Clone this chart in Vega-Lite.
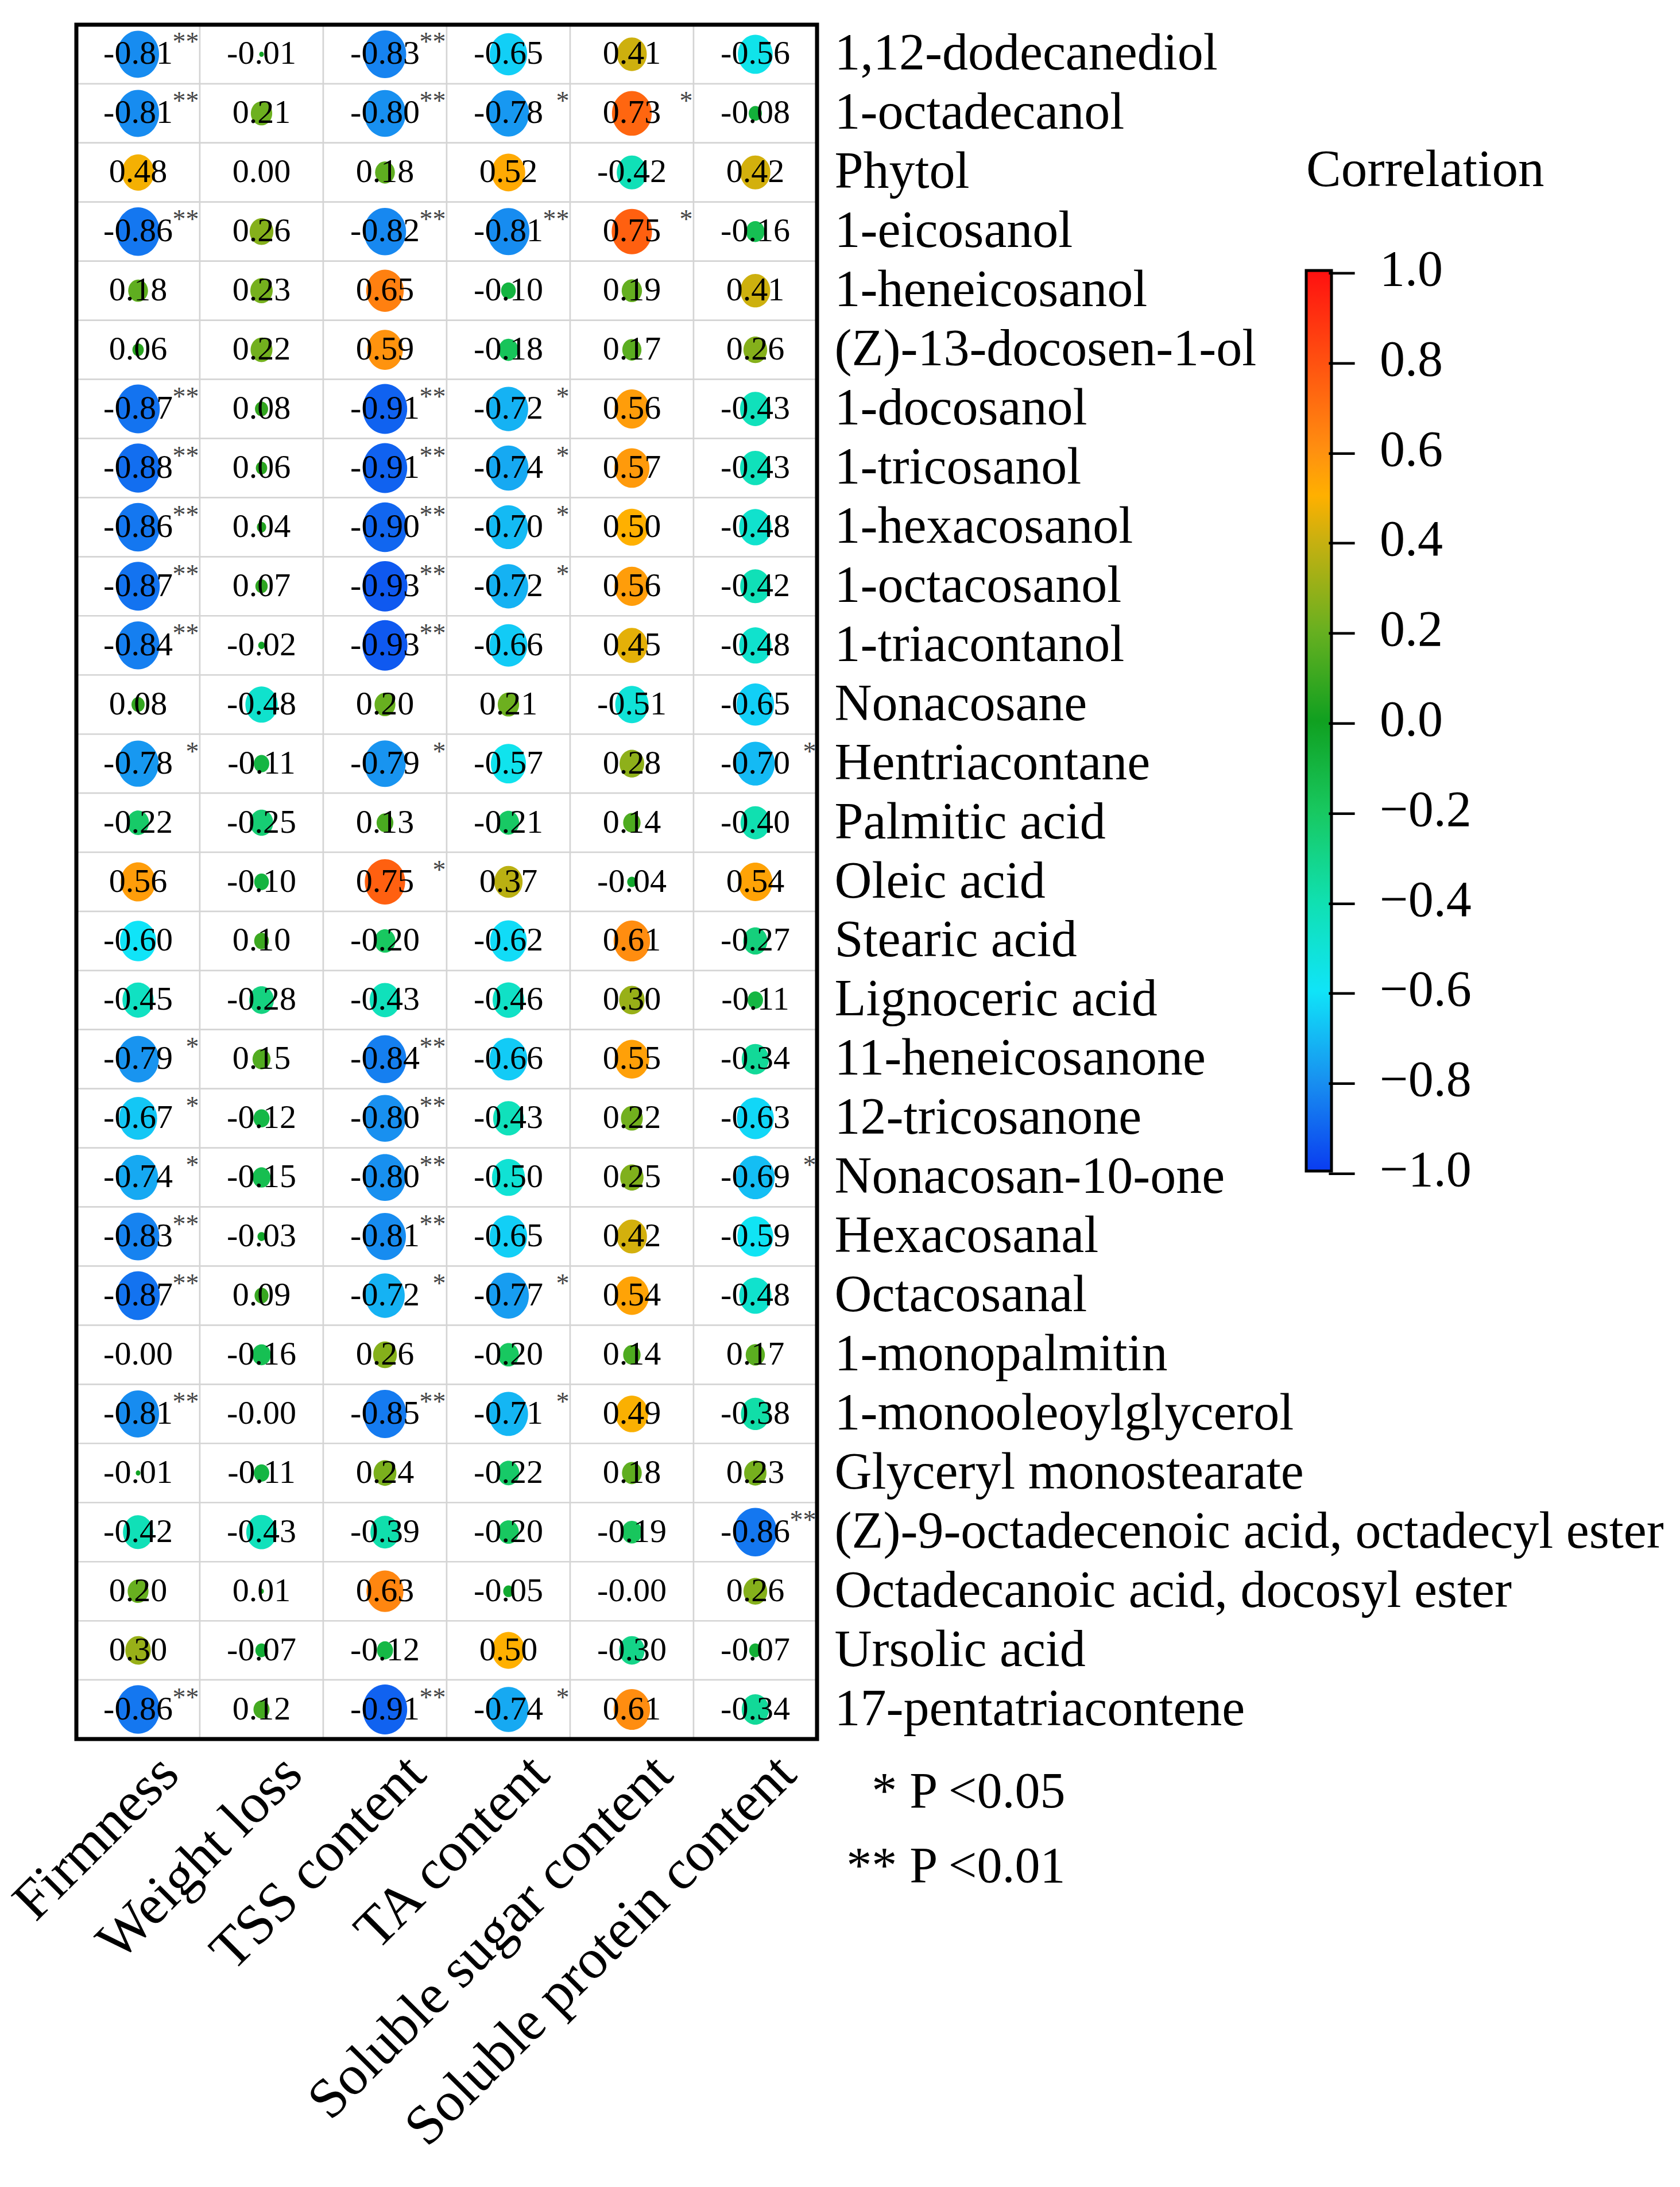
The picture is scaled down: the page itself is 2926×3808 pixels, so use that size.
{
"$schema": "https://vega.github.io/schema/vega-lite/v6.json",
"width": 1290, "height": 2985,
"autosize": {"type": "none"},
"padding": {"left": 133, "top": 43, "right": 1503, "bottom": 780},
"background": "white",
"config": {"view": {"stroke": null}, "font": "Liberation Serif"},
"datasets": {
"frame": [{"k": 1}],
"corr": [
{"c":"1,12-dodecanediol","t":"Firmness","r":-0.81,"l":"-0.81","s":"**"},
{"c":"1,12-dodecanediol","t":"Weight loss","r":-0.01,"l":"-0.01","s":""},
{"c":"1,12-dodecanediol","t":"TSS content","r":-0.83,"l":"-0.83","s":"**"},
{"c":"1,12-dodecanediol","t":"TA content","r":-0.65,"l":"-0.65","s":""},
{"c":"1,12-dodecanediol","t":"Soluble sugar content","r":0.41,"l":"0.41","s":""},
{"c":"1,12-dodecanediol","t":"Soluble protein content","r":-0.56,"l":"-0.56","s":""},
{"c":"1-octadecanol","t":"Firmness","r":-0.81,"l":"-0.81","s":"**"},
{"c":"1-octadecanol","t":"Weight loss","r":0.21,"l":"0.21","s":""},
{"c":"1-octadecanol","t":"TSS content","r":-0.80,"l":"-0.80","s":"**"},
{"c":"1-octadecanol","t":"TA content","r":-0.78,"l":"-0.78","s":"*"},
{"c":"1-octadecanol","t":"Soluble sugar content","r":0.73,"l":"0.73","s":"*"},
{"c":"1-octadecanol","t":"Soluble protein content","r":-0.08,"l":"-0.08","s":""},
{"c":"Phytol","t":"Firmness","r":0.48,"l":"0.48","s":""},
{"c":"Phytol","t":"Weight loss","r":0.00,"l":"0.00","s":""},
{"c":"Phytol","t":"TSS content","r":0.18,"l":"0.18","s":""},
{"c":"Phytol","t":"TA content","r":0.52,"l":"0.52","s":""},
{"c":"Phytol","t":"Soluble sugar content","r":-0.42,"l":"-0.42","s":""},
{"c":"Phytol","t":"Soluble protein content","r":0.42,"l":"0.42","s":""},
{"c":"1-eicosanol","t":"Firmness","r":-0.86,"l":"-0.86","s":"**"},
{"c":"1-eicosanol","t":"Weight loss","r":0.26,"l":"0.26","s":""},
{"c":"1-eicosanol","t":"TSS content","r":-0.82,"l":"-0.82","s":"**"},
{"c":"1-eicosanol","t":"TA content","r":-0.81,"l":"-0.81","s":"**"},
{"c":"1-eicosanol","t":"Soluble sugar content","r":0.75,"l":"0.75","s":"*"},
{"c":"1-eicosanol","t":"Soluble protein content","r":-0.16,"l":"-0.16","s":""},
{"c":"1-heneicosanol","t":"Firmness","r":0.18,"l":"0.18","s":""},
{"c":"1-heneicosanol","t":"Weight loss","r":0.23,"l":"0.23","s":""},
{"c":"1-heneicosanol","t":"TSS content","r":0.65,"l":"0.65","s":""},
{"c":"1-heneicosanol","t":"TA content","r":-0.10,"l":"-0.10","s":""},
{"c":"1-heneicosanol","t":"Soluble sugar content","r":0.19,"l":"0.19","s":""},
{"c":"1-heneicosanol","t":"Soluble protein content","r":0.41,"l":"0.41","s":""},
{"c":"(Z)-13-docosen-1-ol","t":"Firmness","r":0.06,"l":"0.06","s":""},
{"c":"(Z)-13-docosen-1-ol","t":"Weight loss","r":0.22,"l":"0.22","s":""},
{"c":"(Z)-13-docosen-1-ol","t":"TSS content","r":0.59,"l":"0.59","s":""},
{"c":"(Z)-13-docosen-1-ol","t":"TA content","r":-0.18,"l":"-0.18","s":""},
{"c":"(Z)-13-docosen-1-ol","t":"Soluble sugar content","r":0.17,"l":"0.17","s":""},
{"c":"(Z)-13-docosen-1-ol","t":"Soluble protein content","r":0.26,"l":"0.26","s":""},
{"c":"1-docosanol","t":"Firmness","r":-0.87,"l":"-0.87","s":"**"},
{"c":"1-docosanol","t":"Weight loss","r":0.08,"l":"0.08","s":""},
{"c":"1-docosanol","t":"TSS content","r":-0.91,"l":"-0.91","s":"**"},
{"c":"1-docosanol","t":"TA content","r":-0.72,"l":"-0.72","s":"*"},
{"c":"1-docosanol","t":"Soluble sugar content","r":0.56,"l":"0.56","s":""},
{"c":"1-docosanol","t":"Soluble protein content","r":-0.43,"l":"-0.43","s":""},
{"c":"1-tricosanol","t":"Firmness","r":-0.88,"l":"-0.88","s":"**"},
{"c":"1-tricosanol","t":"Weight loss","r":0.06,"l":"0.06","s":""},
{"c":"1-tricosanol","t":"TSS content","r":-0.91,"l":"-0.91","s":"**"},
{"c":"1-tricosanol","t":"TA content","r":-0.74,"l":"-0.74","s":"*"},
{"c":"1-tricosanol","t":"Soluble sugar content","r":0.57,"l":"0.57","s":""},
{"c":"1-tricosanol","t":"Soluble protein content","r":-0.43,"l":"-0.43","s":""},
{"c":"1-hexacosanol","t":"Firmness","r":-0.86,"l":"-0.86","s":"**"},
{"c":"1-hexacosanol","t":"Weight loss","r":0.04,"l":"0.04","s":""},
{"c":"1-hexacosanol","t":"TSS content","r":-0.90,"l":"-0.90","s":"**"},
{"c":"1-hexacosanol","t":"TA content","r":-0.70,"l":"-0.70","s":"*"},
{"c":"1-hexacosanol","t":"Soluble sugar content","r":0.50,"l":"0.50","s":""},
{"c":"1-hexacosanol","t":"Soluble protein content","r":-0.48,"l":"-0.48","s":""},
{"c":"1-octacosanol","t":"Firmness","r":-0.87,"l":"-0.87","s":"**"},
{"c":"1-octacosanol","t":"Weight loss","r":0.07,"l":"0.07","s":""},
{"c":"1-octacosanol","t":"TSS content","r":-0.93,"l":"-0.93","s":"**"},
{"c":"1-octacosanol","t":"TA content","r":-0.72,"l":"-0.72","s":"*"},
{"c":"1-octacosanol","t":"Soluble sugar content","r":0.56,"l":"0.56","s":""},
{"c":"1-octacosanol","t":"Soluble protein content","r":-0.42,"l":"-0.42","s":""},
{"c":"1-triacontanol","t":"Firmness","r":-0.84,"l":"-0.84","s":"**"},
{"c":"1-triacontanol","t":"Weight loss","r":-0.02,"l":"-0.02","s":""},
{"c":"1-triacontanol","t":"TSS content","r":-0.93,"l":"-0.93","s":"**"},
{"c":"1-triacontanol","t":"TA content","r":-0.66,"l":"-0.66","s":""},
{"c":"1-triacontanol","t":"Soluble sugar content","r":0.45,"l":"0.45","s":""},
{"c":"1-triacontanol","t":"Soluble protein content","r":-0.48,"l":"-0.48","s":""},
{"c":"Nonacosane","t":"Firmness","r":0.08,"l":"0.08","s":""},
{"c":"Nonacosane","t":"Weight loss","r":-0.48,"l":"-0.48","s":""},
{"c":"Nonacosane","t":"TSS content","r":0.20,"l":"0.20","s":""},
{"c":"Nonacosane","t":"TA content","r":0.21,"l":"0.21","s":""},
{"c":"Nonacosane","t":"Soluble sugar content","r":-0.51,"l":"-0.51","s":""},
{"c":"Nonacosane","t":"Soluble protein content","r":-0.65,"l":"-0.65","s":""},
{"c":"Hentriacontane","t":"Firmness","r":-0.78,"l":"-0.78","s":"*"},
{"c":"Hentriacontane","t":"Weight loss","r":-0.11,"l":"-0.11","s":""},
{"c":"Hentriacontane","t":"TSS content","r":-0.79,"l":"-0.79","s":"*"},
{"c":"Hentriacontane","t":"TA content","r":-0.57,"l":"-0.57","s":""},
{"c":"Hentriacontane","t":"Soluble sugar content","r":0.28,"l":"0.28","s":""},
{"c":"Hentriacontane","t":"Soluble protein content","r":-0.70,"l":"-0.70","s":"*"},
{"c":"Palmitic acid","t":"Firmness","r":-0.22,"l":"-0.22","s":""},
{"c":"Palmitic acid","t":"Weight loss","r":-0.25,"l":"-0.25","s":""},
{"c":"Palmitic acid","t":"TSS content","r":0.13,"l":"0.13","s":""},
{"c":"Palmitic acid","t":"TA content","r":-0.21,"l":"-0.21","s":""},
{"c":"Palmitic acid","t":"Soluble sugar content","r":0.14,"l":"0.14","s":""},
{"c":"Palmitic acid","t":"Soluble protein content","r":-0.40,"l":"-0.40","s":""},
{"c":"Oleic acid","t":"Firmness","r":0.56,"l":"0.56","s":""},
{"c":"Oleic acid","t":"Weight loss","r":-0.10,"l":"-0.10","s":""},
{"c":"Oleic acid","t":"TSS content","r":0.75,"l":"0.75","s":"*"},
{"c":"Oleic acid","t":"TA content","r":0.37,"l":"0.37","s":""},
{"c":"Oleic acid","t":"Soluble sugar content","r":-0.04,"l":"-0.04","s":""},
{"c":"Oleic acid","t":"Soluble protein content","r":0.54,"l":"0.54","s":""},
{"c":"Stearic acid","t":"Firmness","r":-0.60,"l":"-0.60","s":""},
{"c":"Stearic acid","t":"Weight loss","r":0.10,"l":"0.10","s":""},
{"c":"Stearic acid","t":"TSS content","r":-0.20,"l":"-0.20","s":""},
{"c":"Stearic acid","t":"TA content","r":-0.62,"l":"-0.62","s":""},
{"c":"Stearic acid","t":"Soluble sugar content","r":0.61,"l":"0.61","s":""},
{"c":"Stearic acid","t":"Soluble protein content","r":-0.27,"l":"-0.27","s":""},
{"c":"Lignoceric acid","t":"Firmness","r":-0.45,"l":"-0.45","s":""},
{"c":"Lignoceric acid","t":"Weight loss","r":-0.28,"l":"-0.28","s":""},
{"c":"Lignoceric acid","t":"TSS content","r":-0.43,"l":"-0.43","s":""},
{"c":"Lignoceric acid","t":"TA content","r":-0.46,"l":"-0.46","s":""},
{"c":"Lignoceric acid","t":"Soluble sugar content","r":0.30,"l":"0.30","s":""},
{"c":"Lignoceric acid","t":"Soluble protein content","r":-0.11,"l":"-0.11","s":""},
{"c":"11-heneicosanone","t":"Firmness","r":-0.79,"l":"-0.79","s":"*"},
{"c":"11-heneicosanone","t":"Weight loss","r":0.15,"l":"0.15","s":""},
{"c":"11-heneicosanone","t":"TSS content","r":-0.84,"l":"-0.84","s":"**"},
{"c":"11-heneicosanone","t":"TA content","r":-0.66,"l":"-0.66","s":""},
{"c":"11-heneicosanone","t":"Soluble sugar content","r":0.55,"l":"0.55","s":""},
{"c":"11-heneicosanone","t":"Soluble protein content","r":-0.34,"l":"-0.34","s":""},
{"c":"12-tricosanone","t":"Firmness","r":-0.67,"l":"-0.67","s":"*"},
{"c":"12-tricosanone","t":"Weight loss","r":-0.12,"l":"-0.12","s":""},
{"c":"12-tricosanone","t":"TSS content","r":-0.80,"l":"-0.80","s":"**"},
{"c":"12-tricosanone","t":"TA content","r":-0.43,"l":"-0.43","s":""},
{"c":"12-tricosanone","t":"Soluble sugar content","r":0.22,"l":"0.22","s":""},
{"c":"12-tricosanone","t":"Soluble protein content","r":-0.63,"l":"-0.63","s":""},
{"c":"Nonacosan-10-one","t":"Firmness","r":-0.74,"l":"-0.74","s":"*"},
{"c":"Nonacosan-10-one","t":"Weight loss","r":-0.15,"l":"-0.15","s":""},
{"c":"Nonacosan-10-one","t":"TSS content","r":-0.80,"l":"-0.80","s":"**"},
{"c":"Nonacosan-10-one","t":"TA content","r":-0.50,"l":"-0.50","s":""},
{"c":"Nonacosan-10-one","t":"Soluble sugar content","r":0.25,"l":"0.25","s":""},
{"c":"Nonacosan-10-one","t":"Soluble protein content","r":-0.69,"l":"-0.69","s":"*"},
{"c":"Hexacosanal","t":"Firmness","r":-0.83,"l":"-0.83","s":"**"},
{"c":"Hexacosanal","t":"Weight loss","r":-0.03,"l":"-0.03","s":""},
{"c":"Hexacosanal","t":"TSS content","r":-0.81,"l":"-0.81","s":"**"},
{"c":"Hexacosanal","t":"TA content","r":-0.65,"l":"-0.65","s":""},
{"c":"Hexacosanal","t":"Soluble sugar content","r":0.42,"l":"0.42","s":""},
{"c":"Hexacosanal","t":"Soluble protein content","r":-0.59,"l":"-0.59","s":""},
{"c":"Octacosanal","t":"Firmness","r":-0.87,"l":"-0.87","s":"**"},
{"c":"Octacosanal","t":"Weight loss","r":0.09,"l":"0.09","s":""},
{"c":"Octacosanal","t":"TSS content","r":-0.72,"l":"-0.72","s":"*"},
{"c":"Octacosanal","t":"TA content","r":-0.77,"l":"-0.77","s":"*"},
{"c":"Octacosanal","t":"Soluble sugar content","r":0.54,"l":"0.54","s":""},
{"c":"Octacosanal","t":"Soluble protein content","r":-0.48,"l":"-0.48","s":""},
{"c":"1-monopalmitin","t":"Firmness","r":0,"l":"-0.00","s":""},
{"c":"1-monopalmitin","t":"Weight loss","r":-0.16,"l":"-0.16","s":""},
{"c":"1-monopalmitin","t":"TSS content","r":0.26,"l":"0.26","s":""},
{"c":"1-monopalmitin","t":"TA content","r":-0.20,"l":"-0.20","s":""},
{"c":"1-monopalmitin","t":"Soluble sugar content","r":0.14,"l":"0.14","s":""},
{"c":"1-monopalmitin","t":"Soluble protein content","r":0.17,"l":"0.17","s":""},
{"c":"1-monooleoylglycerol","t":"Firmness","r":-0.81,"l":"-0.81","s":"**"},
{"c":"1-monooleoylglycerol","t":"Weight loss","r":0,"l":"-0.00","s":""},
{"c":"1-monooleoylglycerol","t":"TSS content","r":-0.85,"l":"-0.85","s":"**"},
{"c":"1-monooleoylglycerol","t":"TA content","r":-0.71,"l":"-0.71","s":"*"},
{"c":"1-monooleoylglycerol","t":"Soluble sugar content","r":0.49,"l":"0.49","s":""},
{"c":"1-monooleoylglycerol","t":"Soluble protein content","r":-0.38,"l":"-0.38","s":""},
{"c":"Glyceryl monostearate","t":"Firmness","r":-0.01,"l":"-0.01","s":""},
{"c":"Glyceryl monostearate","t":"Weight loss","r":-0.11,"l":"-0.11","s":""},
{"c":"Glyceryl monostearate","t":"TSS content","r":0.24,"l":"0.24","s":""},
{"c":"Glyceryl monostearate","t":"TA content","r":-0.22,"l":"-0.22","s":""},
{"c":"Glyceryl monostearate","t":"Soluble sugar content","r":0.18,"l":"0.18","s":""},
{"c":"Glyceryl monostearate","t":"Soluble protein content","r":0.23,"l":"0.23","s":""},
{"c":"(Z)-9-octadecenoic acid, octadecyl ester","t":"Firmness","r":-0.42,"l":"-0.42","s":""},
{"c":"(Z)-9-octadecenoic acid, octadecyl ester","t":"Weight loss","r":-0.43,"l":"-0.43","s":""},
{"c":"(Z)-9-octadecenoic acid, octadecyl ester","t":"TSS content","r":-0.39,"l":"-0.39","s":""},
{"c":"(Z)-9-octadecenoic acid, octadecyl ester","t":"TA content","r":-0.20,"l":"-0.20","s":""},
{"c":"(Z)-9-octadecenoic acid, octadecyl ester","t":"Soluble sugar content","r":-0.19,"l":"-0.19","s":""},
{"c":"(Z)-9-octadecenoic acid, octadecyl ester","t":"Soluble protein content","r":-0.86,"l":"-0.86","s":"**"},
{"c":"Octadecanoic acid, docosyl ester","t":"Firmness","r":0.20,"l":"0.20","s":""},
{"c":"Octadecanoic acid, docosyl ester","t":"Weight loss","r":0.01,"l":"0.01","s":""},
{"c":"Octadecanoic acid, docosyl ester","t":"TSS content","r":0.63,"l":"0.63","s":""},
{"c":"Octadecanoic acid, docosyl ester","t":"TA content","r":-0.05,"l":"-0.05","s":""},
{"c":"Octadecanoic acid, docosyl ester","t":"Soluble sugar content","r":0,"l":"-0.00","s":""},
{"c":"Octadecanoic acid, docosyl ester","t":"Soluble protein content","r":0.26,"l":"0.26","s":""},
{"c":"Ursolic acid","t":"Firmness","r":0.30,"l":"0.30","s":""},
{"c":"Ursolic acid","t":"Weight loss","r":-0.07,"l":"-0.07","s":""},
{"c":"Ursolic acid","t":"TSS content","r":-0.12,"l":"-0.12","s":""},
{"c":"Ursolic acid","t":"TA content","r":0.50,"l":"0.50","s":""},
{"c":"Ursolic acid","t":"Soluble sugar content","r":-0.30,"l":"-0.30","s":""},
{"c":"Ursolic acid","t":"Soluble protein content","r":-0.07,"l":"-0.07","s":""},
{"c":"17-pentatriacontene","t":"Firmness","r":-0.86,"l":"-0.86","s":"**"},
{"c":"17-pentatriacontene","t":"Weight loss","r":0.12,"l":"0.12","s":""},
{"c":"17-pentatriacontene","t":"TSS content","r":-0.91,"l":"-0.91","s":"**"},
{"c":"17-pentatriacontene","t":"TA content","r":-0.74,"l":"-0.74","s":"*"},
{"c":"17-pentatriacontene","t":"Soluble sugar content","r":0.61,"l":"0.61","s":""},
{"c":"17-pentatriacontene","t":"Soluble protein content","r":-0.34,"l":"-0.34","s":""}
]},
"encoding": {
 "x": {"field": "t", "type": "nominal", "sort": null,
   "scale": {"paddingInner": 0, "paddingOuter": 0},
   "axis": {"orient": "bottom", "labelAngle": -45, "labelAlign": "right", "labelBaseline": "middle",
     "labelFont": "Liberation Serif", "labelFontSize": 98, "labelColor": "black",
     "labelPadding": 45, "labelOffset": 55, "labelLimit": 3000, "labelOverlap": false,
     "ticks": false, "domain": false, "grid": false,
     "title": ["* P <0.05", "** P <0.01"], "titleFont": "Liberation Serif", "titleFontSize": 88,
     "titleFontWeight": "normal", "titleColor": "black", "titleAngle": 0, "titleAlign": "right",
     "titleBaseline": "alphabetic", "titleX": 1722, "titleY": 118, "titleLineHeight": 130}},
 "y": {"field": "c", "type": "nominal", "sort": null,
   "scale": {"paddingInner": 0, "paddingOuter": 0},
   "axis": {"orient": "right", "labelFont": "Liberation Serif", "labelFontSize": 90, "labelColor": "black",
     "labelPadding": 30, "labelLimit": 3000, "labelOverlap": false, "ticks": false, "domain": false,
     "grid": false, "title": null}}
},
"layer": [
 {"data": {"name": "corr"}, "mark": {"type": "rect", "fill": "white", "stroke": "#d4d4d4", "strokeWidth": 2.5}},
 {"data": {"name": "corr"}, "mark": {"type": "point", "filled": true, "opacity": 1, "strokeWidth": 0,
    "shape": "M0,-1A0.89,1 0 1 1 0,1A0.89,1 0 1 1 0,-1Z"},
  "encoding": {
   "size": {"field": "r", "type": "quantitative", "scale": {"domain": [-1, 0, 1], "range": [8300, 0, 8300]}, "legend": null},
   "color": {"field": "r", "type": "quantitative",
     "scale": {"type": "linear", "interpolate": "rgb",
       "domain": [-1, -0.8, -0.6, -0.4, -0.2, 0, 0.2, 0.4, 0.5, 0.6, 0.8, 1],
       "range": ["#0a3cf0", "#1890f0", "#10e4f8", "#10e0b0", "#18c860", "#10a020", "#68b020", "#c8b010", "#ffb000", "#ff9010", "#ff5010", "#ff1010"]},
     "legend": {"title": "Correlation", "orient": "none", "legendX": 2142, "legendY": 209, "direction": "vertical",
       "padding": 0, "gradientLength": 1568, "gradientThickness": 44, "gradientStrokeColor": "black", "gradientStrokeWidth": 5,
       "titleFont": "Liberation Serif", "titleFontSize": 91, "titleFontWeight": "normal", "titleColor": "black", "titlePadding": 128, "titleLimit": 3000,
       "labelFont": "Liberation Serif", "labelFontSize": 88, "labelColor": "black", "labelOffset": -4, "labelBaseline": "middle", "labelLimit": 3000,
       "labelOverlap": false, "values": [1, 0.8, 0.6, 0.4, 0.2, 0, -0.2, -0.4, -0.6, -0.8, -1],
       "labelExpr": "'\u2013\u00a0\u00a0' + format(datum.value, '.1f')",
       "encoding": {"labels": {"baseline": {"value": "middle"}}}}}
  }},
 {"data": {"name": "corr"}, "mark": {"type": "text", "font": "Liberation Serif", "fontSize": 58, "color": "black", "baseline": "middle"},
  "encoding": {"text": {"field": "l"}}},
 {"data": {"name": "corr"}, "mark": {"type": "text", "font": "Liberation Serif", "fontSize": 46, "color": "#444444", "align": "right", "baseline": "middle", "dx": 106, "dy": -20},
  "encoding": {"text": {"field": "s"}}},
 {"data": {"name": "frame"}, "mark": {"type": "rect", "fill": null, "stroke": "black", "strokeWidth": 7},
  "encoding": {"x": {"value": 0}, "x2": {"value": "width"}, "y": {"value": 0}, "y2": {"value": "height"}}}
]
}
